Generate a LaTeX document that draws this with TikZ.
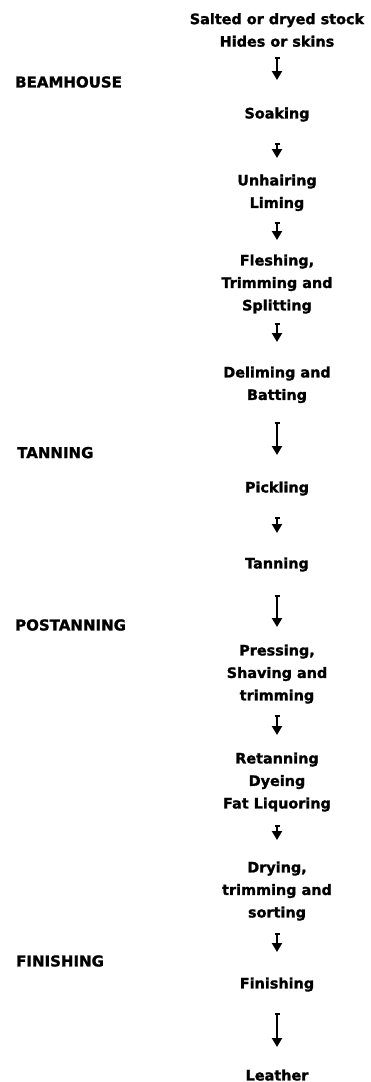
\documentclass[tikz,border=0pt]{standalone}
\usepackage{fontspec}
\setmainfont{DejaVu Sans}[BoldFeatures={FakeBold=1.3}]
\usetikzlibrary{arrows.meta}
\tikzset{
  stage/.style={anchor=north, inner sep=0pt, align=center,
    font=\fontsize{14.4}{22.5}\selectfont\bfseries},
  phase/.style={anchor=west, inner sep=0pt,
    font=\fontsize{15}{18}\selectfont\bfseries},
  flow/.style={line width=2.2pt,
    {Bar[width=5pt,line width=1.4pt]}-{Triangle[width=10pt,length=9pt]}}
}
\begin{document}
\begin{tikzpicture}[x=1pt,y=-1pt]
\useasboundingbox (0,0) rectangle (371,1082);
\fill[white] (0,0) rectangle (371,1082);
% process stages
\node[stage] (n1) at (277,13) {Salted or dryed stock\\Hides or skins};
\node[stage] (n2) at (277,107.3) {Soaking};
\node[stage] (n3) at (277,174.3) {Unhairing\\Liming};
\node[stage] (n4) at (277,254.3) {Fleshing,\\Trimming and\\Splitting};
\node[stage] (n5) at (277,366.3) {Deliming and\\Batting};
\node[stage] (n6) at (277,481.3) {Pickling};
\node[stage] (n7) at (277,557.3) {Tanning};
\node[stage] (n8) at (277,644.3) {Pressing,\\Shaving and\\trimming};
\node[stage] (n9) at (277,752.3) {Retanning\\Dyeing\\Fat Liquoring};
\node[stage] (n10) at (277,861.3) {Drying,\\trimming and\\sorting};
\node[stage] (n11) at (277,977.3) {Finishing};
\node[stage] (n12) at (277,1069.3) {Leather};
% phase labels
\node[phase] (p1) at (15,82) {BEAMHOUSE};
\node[phase] (p2) at (17,452.6) {TANNING};
\node[phase] (p3) at (15,625) {POSTANNING};
\node[phase] (p4) at (16,961) {FINISHING};
% arrows
\draw[flow, shorten <=10.3pt, shorten >=27.3pt] (n1.south) -- (n2.north);
\draw[flow, shorten <=21.7pt, shorten >=16.3pt] (n2.south) -- (n3.north);
\draw[flow, shorten <=11.2pt, shorten >=14.3pt] (n3.south) -- (n4.north);
\draw[flow, shorten <=9.7pt, shorten >=24.3pt] (n4.south) -- (n5.north);
\draw[flow, shorten <=19.2pt, shorten >=26.3pt] (n5.south) -- (n6.north);
\draw[flow, shorten <=21.7pt, shorten >=24.3pt] (n6.south) -- (n7.north);
\draw[flow, shorten <=23.7pt, shorten >=17.3pt] (n7.south) -- (n8.north);
\draw[flow, shorten <=11.7pt, shorten >=17.3pt] (n8.south) -- (n9.north);
\draw[flow, shorten <=13.7pt, shorten >=21.3pt] (n9.south) -- (n10.north);
\draw[flow, shorten <=12.7pt, shorten >=25.3pt] (n10.south) -- (n11.north);
\draw[flow, shorten <=21.7pt, shorten >=22.3pt] (n11.south) -- (n12.north);
\end{tikzpicture}
\end{document}
